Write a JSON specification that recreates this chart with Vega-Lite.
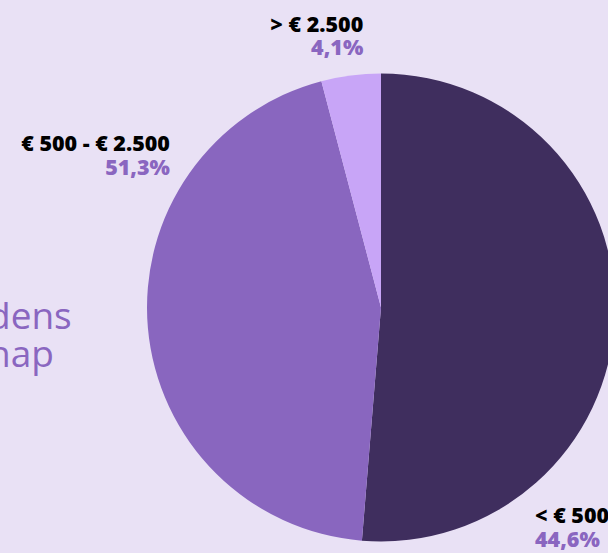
{
  "$schema": "https://vega.github.io/schema/vega-lite/v6.json",
  "width": 608,
  "height": 553,
  "autosize": {"type": "none"},
  "padding": 0,
  "background": "#e9e1f5",
  "config": {"view": {"stroke": null}},
  "title": {
    "text": ["dens", "nap"],
    "anchor": "start",
    "frame": "group",
    "align": "left",
    "baseline": "alphabetic",
    "dx": -12,
    "dy": 404,
    "offset": 0,
    "font": "Open Sans",
    "fontSize": 37,
    "fontWeight": "normal",
    "lineHeight": 38,
    "color": "#8a66c0"
  },
  "data": {
    "values": [
      {"rank": 1, "band": "< € 500", "pct": "44,6%", "share": 51.3},
      {"rank": 2, "band": "€ 500 - € 2.500", "pct": "51,3%", "share": 44.6},
      {"rank": 3, "band": "> € 2.500", "pct": "4,1%", "share": 4.1}
    ]
  },
  "encoding": {
    "theta": {"field": "share", "type": "quantitative", "stack": true},
    "order": {"field": "rank", "type": "quantitative", "sort": "ascending"},
    "x": {"value": 381},
    "y": {"value": 307.5}
  },
  "layer": [
    {
      "mark": {"type": "arc", "outerRadius": 234},
      "encoding": {
        "color": {
          "field": "band",
          "type": "nominal",
          "scale": {"domain": ["< € 500", "€ 500 - € 2.500", "> € 2.500"], "range": ["#3f2e5e", "#8966bf", "#c8a5f7"]},
          "legend": null
        }
      }
    },
    {
      "mark": {
        "type": "text",
        "radius": 280,
        "font": "Open Sans",
        "fontSize": 21.5,
        "fontWeight": 800,
        "color": "#000000",
        "baseline": "alphabetic",
        "align": {"expr": "datum.rank == 1 ? 'left' : 'right'"},
        "dx": {"expr": "datum.rank == 1 ? -125.8 : datum.rank == 2 ? 67.9 : 18.25"},
        "dy": {"expr": "datum.rank == 1 ? 204.4 : datum.rank == 2 ? -181.4 : 1.9"}
      },
      "encoding": {
        "detail": {"field": "band"},
        "text": {"field": "band"}
      }
    },
    {
      "mark": {
        "type": "text",
        "radius": 280,
        "font": "Open Sans",
        "fontSize": 21.5,
        "fontWeight": 800,
        "color": "#8a66c0",
        "baseline": "alphabetic",
        "align": {"expr": "datum.rank == 1 ? 'left' : 'right'"},
        "dx": {"expr": "datum.rank == 1 ? -125.8 : datum.rank == 2 ? 67.9 : 18.25"},
        "dy": {"expr": "datum.rank == 1 ? 227.8 : datum.rank == 2 ? -157.1 : 25.2"}
      },
      "encoding": {
        "detail": {"field": "band"},
        "text": {"field": "pct"}
      }
    }
  ]
}
